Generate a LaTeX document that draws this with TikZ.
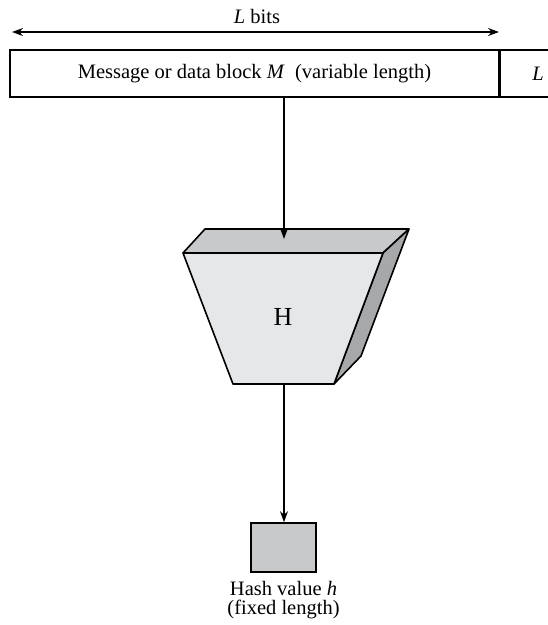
\documentclass[tikz,border=0pt]{standalone}
\usepackage{fontspec}
\setmainfont{Liberation Serif}
\usetikzlibrary{arrows.meta,positioning}
\definecolor{facefront}{RGB}{230,231,232}
\definecolor{facetop}{RGB}{200,201,203}
\definecolor{faceside}{RGB}{167,168,170}
\tikzstyle{block} = [draw,line width=1.6pt,rectangle,inner sep=0pt,font=\fontsize{20.5}{19}\selectfont]
\tikzstyle{edge} = [draw,line width=1.4pt,-{Stealth[length=11pt,width=8pt]}]
\tikzstyle{face} = [draw,line width=1.6pt,line join=round]
\tikzstyle{label} = [font=\fontsize{20.5}{19}\selectfont,inner sep=0pt]

\begin{document}
\begin{tikzpicture}[x=1pt,y=-1pt]
                    \useasboundingbox (0,0) rectangle (548,625);

                    % message block and length field
                    \node[block,minimum width=489pt,minimum height=47pt] (msg) at (254.5,73.5) {Message or data block \textit{M}\ \ (variable length)};
                    \node[block,minimum width=56pt,minimum height=47pt,anchor=west] (len) at (msg.east) {};
                    \node[label] (lname) at (538,74) {\textit{L}};

                    % L bits arrow
                    \coordinate (bl) at (12,32);
                    \coordinate (br) at (499,32);
                    \node[label] (bits) at (257,16) {\textit{L} bits};
                    \path[draw,line width=1.4pt,{Stealth[length=11pt,width=8pt]}-{Stealth[length=11pt,width=8pt]}] (bl) -- (br);

                    % hash function H
                    \coordinate (htop) at (284,239);
                    \coordinate (hbot) at (284,384);
                    \path[face,fill=facetop] (183,253) -- (205,229) -- (409,229) -- (383,253) -- cycle;
                    \path[face,fill=faceside] (383,253) -- (409,229) -- (361,356) -- (334,384) -- cycle;
                    \path[face,fill=facefront] (183,253) -- (383,253) -- (334,384) -- (233,384) -- cycle;
                    \node[label,font=\fontsize{26}{30}\selectfont] (H) at (283,317) {H};

                    % hash value
                    \node[block,fill=facetop,minimum width=65pt,minimum height=49pt] (hash) at (283.5,547.5) {};
                    \node[label,below=8pt of hash,align=center] (hname) {Hash value \textit{h}\\(fixed length)};

                    \path[edge] (msg.south -| htop) -- (htop);
                    \path[edge] (hbot) -- (hash.north -| hbot);
                \end{tikzpicture}
\end{document}
